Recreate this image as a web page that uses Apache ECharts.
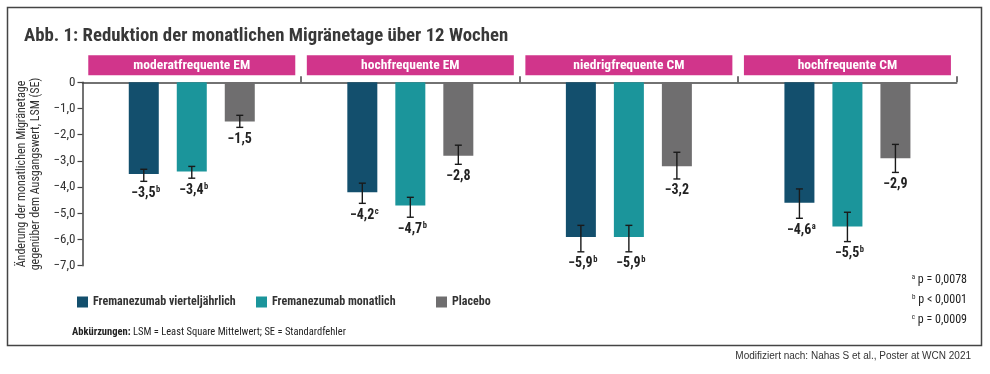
<!DOCTYPE html>
<html>
<head>
<meta charset="utf-8">
<script src="https://cdn.jsdelivr.net/npm/echarts@6/dist/echarts.min.js"></script>
<style>
html,body{margin:0;padding:0;background:#fff;}
#chart{width:990px;height:374px;}
</style>
</head>
<body>
<div id="chart"></div>
<script>
// ---------- data ----------
const titleText = 'Abb. 1: Reduktion der monatlichen Migränetage über 12 Wochen';
const categories = ['moderatfrequente EM', 'hochfrequente EM', 'niedrigfrequente CM', 'hochfrequente CM'];
const seriesNames = ['Fremanezumab vierteljährlich', 'Fremanezumab monatlich', 'Placebo'];

const quarterly = [-3.5, -4.2, -5.9, -4.6];
const monthly   = [-3.4, -4.7, -5.9, -5.5];
const placebo   = [-1.5, -2.8, -3.2, -2.9];

// error bar ends (upper = less negative, lower = more negative)
const quarterlyUpper = [-3.32, -3.85, -5.46, -4.07];
const quarterlyLower = [-3.78, -4.62, -6.47, -5.19];
const monthlyUpper   = [-3.21, -4.39, -5.46, -4.96];
const monthlyLower   = [-3.66, -5.15, -6.47, -6.08];
const placeboUpper   = [-1.26, -2.40, -2.67, -2.37];
const placeboLower   = [-1.72, -3.13, -3.69, -3.44];

// significance superscripts
const quarterlySup = ['b', 'c', 'b', 'a'];
const monthlySup   = ['b', 'b', 'b', 'b'];
const placeboSup   = ['', '', '', ''];

const yMin = -7, yMax = 0, yInterval = 1;
const yAxisName = 'Änderung der monatlichen Migränetage\ngegenüber dem Ausgangswert, LSM (SE)';

const footnoteLetters = ['a', 'b', 'c'];
const footnoteTexts = ['p = 0,0078', 'p < 0,0001', 'p = 0,0009'];
const abbrevLabel = 'Abkürzungen:';
const abbrevText = ' LSM = Least Square Mittelwert; SE = Standardfehler';
const sourceText = 'Modifiziert nach: Nahas S et al., Poster at WCN 2021';

// ---------- style ----------
const COND = "'Roboto Condensed','Archivo Narrow','DejaVu Sans Condensed',sans-serif";
const colors = ['#134f6d', '#1b959b', '#6f6e6f'];
const PINK = '#d1358b';
const AXIS = '#444';
const TEXT = '#222';
const BAR_W = 30, BAR_GAP = 18;
const legendLefts = [72, 251, 431];

function fmt(v) {
  if (v === 0) return '0';
  return (v < 0 ? '\u2212' : '') + Math.abs(v).toFixed(1).replace('.', ',');
}

const values = [quarterly, monthly, placebo];
const uppers = [quarterlyUpper, monthlyUpper, placeboUpper];
const lowers = [quarterlyLower, monthlyLower, placeboLower];
const sups = [quarterlySup, monthlySup, placeboSup];

const errData = [];
for (let s = 0; s < 3; s++) {
  for (let c = 0; c < categories.length; c++) {
    errData.push([c, uppers[s][c], lowers[s][c], s, values[s][c]]);
  }
}

const chart = echarts.init(document.getElementById('chart'), null, {renderer: 'canvas'});

const barSeries = seriesNames.map((name, i) => ({
  name: name,
  type: 'bar',
  data: values[i],
  barWidth: BAR_W,
  barGap: (BAR_GAP / BAR_W * 100) + '%',
  itemStyle: {color: colors[i]},
  emphasis: {disabled: true},
  silent: true
}));

const errSeries = {
  type: 'custom',
  data: errData,
  z: 10,
  silent: true,
  clip: false,
  renderItem: function (params, api) {
    const c = api.value(0), hi = api.value(1), lo = api.value(2), s = api.value(3), v = api.value(4);
    const center = api.coord([c, 0])[0];
    const x = center + (s - 1) * (BAR_W + BAR_GAP);
    const yHi = api.coord([c, hi])[1];
    const yLo = api.coord([c, lo])[1];
    const sup = sups[s][c];
    const ls = {stroke: '#1a1a1a', lineWidth: 1.4};
    return {
      type: 'group',
      children: [
        {type: 'line', shape: {x1: x, y1: yHi, x2: x, y2: yLo}, style: ls},
        {type: 'line', shape: {x1: x - 3.5, y1: yHi, x2: x + 3.5, y2: yHi}, style: ls},
        {type: 'line', shape: {x1: x - 3.5, y1: yLo, x2: x + 3.5, y2: yLo}, style: ls},
        {
          type: 'text',
          x: x + (sup ? 2 : 0),
          y: yLo + 4,
          style: {
            text: '{v|' + fmt(v) + '}' + (sup ? '{s|' + sup + '}' : ''),
            align: 'center',
            verticalAlign: 'top',
            rich: {
              v: {fontFamily: COND, fontSize: 14, fontWeight: 'bold', fill: TEXT, lineHeight: 16},
              s: {fontFamily: COND, fontSize: 8.5, fontWeight: 'bold', fill: TEXT, verticalAlign: 'top', lineHeight: 16, padding: [0, 0, 6, 0.5]}
            }
          }
        }
      ]
    };
  }
};

const footGraphics = footnoteLetters.map((l, i) => ({
  type: 'text',
  right: 990 - 967,
  top: 274 + i * 20,
  style: {
    text: '{s|' + l + '} ' + footnoteTexts[i],
    rich: {
      s: {fontFamily: COND, fontSize: 7, fill: TEXT, verticalAlign: 'top', padding: [0, 0, 5, 0]}
    },
    fontFamily: COND, fontSize: 12, fill: TEXT
  }
}));

const legends = seriesNames.map((name, i) => ({
  data: [name],
  left: legendLefts[i],
  top: 291,
  icon: 'rect',
  itemWidth: 11,
  itemHeight: 11,
  itemTextGap: 3,
  selectedMode: false,
  textStyle: {fontFamily: COND, fontSize: 12, fontWeight: 'bold', color: '#333'}
}));

const option = {
  animation: false,
  backgroundColor: '#fff',
  title: {
    text: titleText,
    left: 19,
    top: 22,
    textStyle: {fontFamily: COND, fontSize: 18.8, fontWeight: 'bold', color: '#383838'}
  },
  legend: legends,
  grid: {left: 82.5, right: 33.3, top: 82.3, bottom: 108.3, containLabel: false},
  xAxis: {
    type: 'category',
    position: 'top',
    data: categories,
    axisLine: {show: true, lineStyle: {color: AXIS, width: 1.5}},
    axisTick: {show: true, length: 6, interval: function (idx) { return idx !== 0; }, lineStyle: {color: AXIS, width: 1.5}},
    axisLabel: {
      interval: 0,
      margin: 7,
      color: '#fff',
      fontFamily: COND,
      fontSize: 13.5,
      fontWeight: 'bold',
      backgroundColor: PINK,
      width: 207,
      height: 20,
      lineHeight: 20,
      align: 'center'
    }
  },
  yAxis: {
    type: 'value',
    min: yMin,
    max: yMax,
    interval: yInterval,
    name: yAxisName,
    nameLocation: 'middle',
    nameGap: 35,
    nameRotate: 90,
    nameTextStyle: {fontFamily: COND, fontSize: 12, color: '#333', lineHeight: 14},
    axisLine: {show: true, lineStyle: {color: AXIS, width: 1.5}},
    axisTick: {show: true, length: 5, lineStyle: {color: AXIS, width: 1.2}},
    splitLine: {show: false},
    axisLabel: {formatter: fmt, fontFamily: COND, fontSize: 13, color: '#333', margin: 7}
  },
  series: barSeries.concat([errSeries]),
  graphic: [
    {type: 'rect', shape: {x: 7.5, y: 7.5, width: 974, height: 338}, style: {fill: 'none', stroke: '#444', lineWidth: 1.5}, silent: true},
    {
      type: 'text',
      left: 72,
      top: 327,
      style: {
        text: '{b|' + abbrevLabel + '}' + abbrevText,
        fontFamily: COND, fontSize: 10.5, fill: TEXT,
        rich: {b: {fontFamily: COND, fontSize: 10.5, fontWeight: 'bold', fill: TEXT}}
      }
    },
    {
      type: 'text',
      right: 990 - 971,
      top: 351,
      style: {text: sourceText, fontFamily: "'Liberation Sans',Arial,sans-serif", fontSize: 10, fill: '#333'}
    }
  ].concat(footGraphics)
};

chart.setOption(option);
</script>
</body>
</html>
